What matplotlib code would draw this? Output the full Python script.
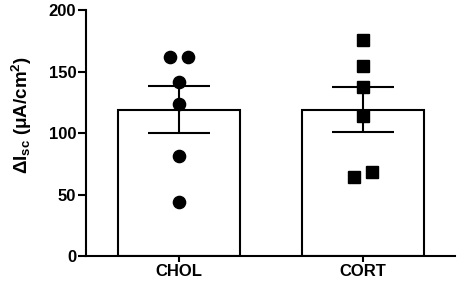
import matplotlib
matplotlib.use("Agg")
import matplotlib.pyplot as plt
import numpy as np

categories = ["CHOL", "CORT"]
means = [118.7, 118.7]
sem_upper = [138.2, 137.6]
sem_lower = [99.7, 100.5]
chol_points = [162, 162, 141.7, 123.8, 81.3, 44.1]
chol_offsets = [0.05, -0.05, 0, 0, 0, 0]
cort_points = [175.6, 154.5, 137.1, 114.1, 64.5, 68.3]
cort_offsets = [0, 0, 0, 0, -0.05, 0.05]
yticks = [0, 50, 100, 150, 200]

plt.rcParams['font.family'] = ['Liberation Sans', 'DejaVu Sans']
plt.rcParams['mathtext.fontset'] = 'custom'
plt.rcParams['mathtext.rm'] = 'Liberation Sans:bold'
plt.rcParams['mathtext.bf'] = 'Liberation Sans:bold'
plt.rcParams['mathtext.it'] = 'Liberation Sans:bold'

fs = 12
fig = plt.figure(figsize=(4.59, 2.86), dpi=100)
ax = fig.add_axes([0.1874, 0.1049, 0.9913 - 0.1874, 0.965 - 0.1049])

x = np.arange(len(categories))
lw = 1.5
ax.bar(x, means, width=0.667, color='white', edgecolor='black', linewidth=lw, zorder=1)
yerr = np.array([[m - l for m, l in zip(means, sem_lower)],
                 [u - m for m, u in zip(means, sem_upper)]])
ax.errorbar(x, means, yerr=yerr, fmt='none', ecolor='black', elinewidth=lw,
            capsize=22, capthick=lw, zorder=2)

ax.plot(x[0] + np.array(chol_offsets), chol_points, 'o', color='black', markersize=8.8, zorder=3, clip_on=False)
ax.plot(x[1] + np.array(cort_offsets), cort_points, 's', color='black', markersize=8.3, zorder=3, clip_on=False)

ax.set_xlim(-0.505, 1.5)
ax.set_ylim(0, 200)
ax.set_yticks(yticks)
ax.set_xticks(x)
ax.set_xticklabels(categories, fontweight='bold', fontsize=fs)
for lab in ax.get_yticklabels():
    lab.set_fontweight('bold')
    lab.set_fontsize(fs)
ax.tick_params(axis='y', length=6, width=lw, pad=1)
ax.tick_params(axis='x', length=4, width=lw, pad=2)
for s in ['top', 'right']:
    ax.spines[s].set_visible(False)
for s in ['left', 'bottom']:
    ax.spines[s].set_linewidth(lw)
ax.set_ylabel(r'$\Delta$I$_{\mathbf{sc}}$ ($\mu$A/cm$^{\mathbf{2}}$)', fontweight='bold', fontsize=13.5)
ax.yaxis.set_label_coords(-52 / 369, 0.573)

fig.savefig('out.png', dpi=100)
